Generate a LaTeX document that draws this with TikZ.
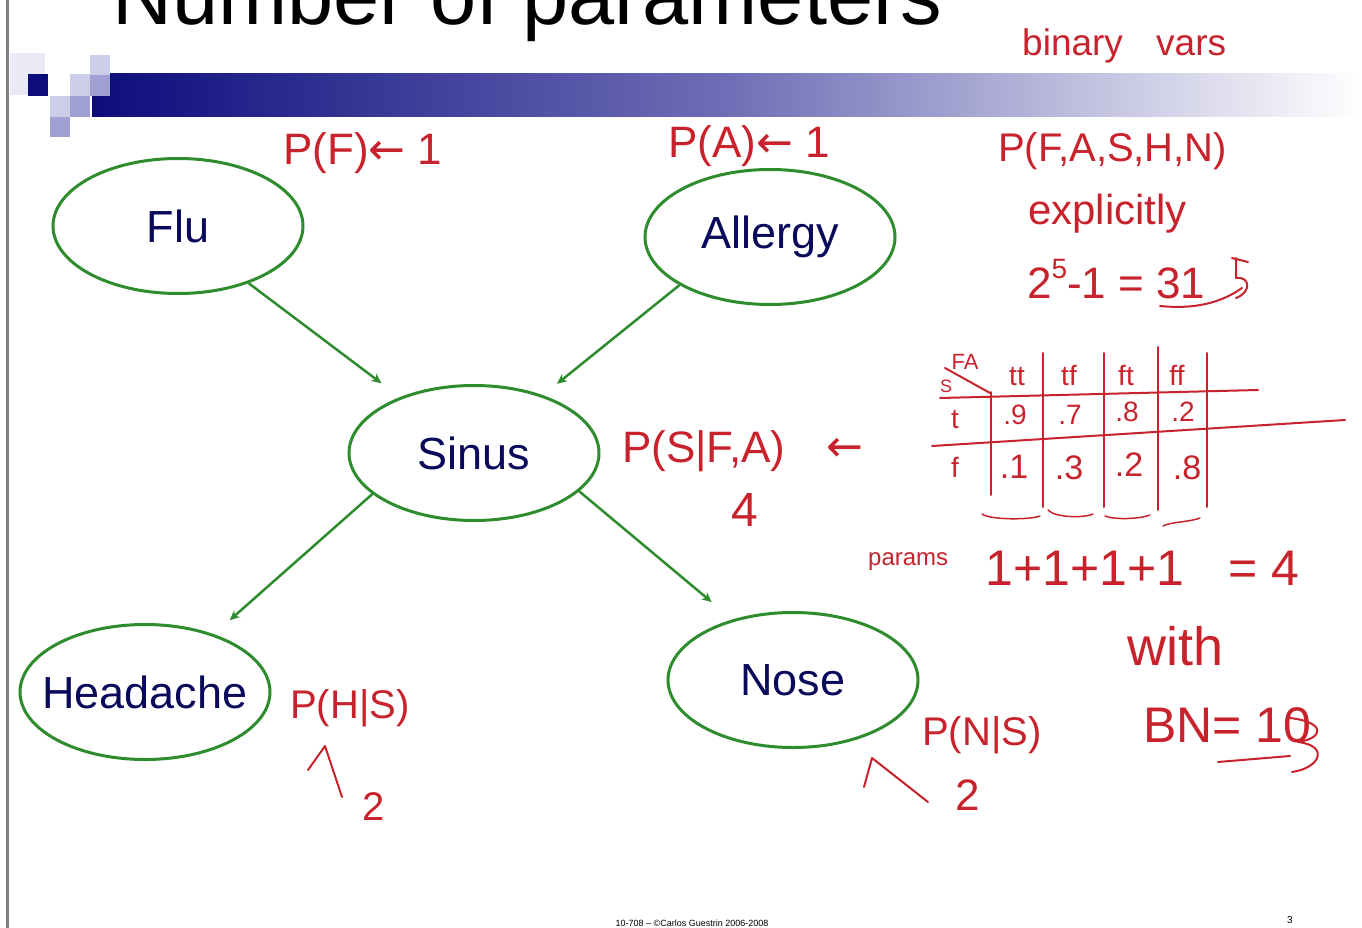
\documentclass[tikz,border=0pt]{standalone}
\usepackage{fontspec}
\setmainfont{Liberation Sans}
\newfontfamily\symf{DejaVu Sans}
\usetikzlibrary{shapes.geometric,arrows.meta}
\definecolor{navy}{RGB}{12,12,125}
\definecolor{barmid}{RGB}{110,110,182}
\definecolor{nodetext}{RGB}{10,10,90}
\definecolor{grn}{RGB}{46,140,46}
\definecolor{ink}{RGB}{200,35,45}
\definecolor{lav1}{RGB}{234,234,246}
\definecolor{lav2}{RGB}{205,205,232}
\definecolor{lav3}{RGB}{160,160,210}
\begin{document}
\begin{tikzpicture}[x=1pt,y=-1pt,
  bn/.style={ellipse, draw=grn, line width=3pt, minimum width=250pt, minimum height=135pt, inner sep=0pt, font=\fontsize{45}{50}\selectfont, text=nodetext},
  arr/.style={draw=grn, line width=2.5pt, -{Stealth[length=10pt,width=9pt]}},
  hw/.style={text=ink, inner sep=0pt, anchor=base west},
  cell/.style={text=ink, inner sep=0pt, font=\fontsize{28}{30}\selectfont},
  redline/.style={draw=ink, line width=2pt, line cap=round, line join=round}]
\useasboundingbox (0,0) rectangle (1362,928);
\fill[white] (0,0) rectangle (1362,928);
% slide decoration
\draw[gray, line width=3pt] (7,0) -- (7,928);
\node[anchor=base west, inner sep=0pt, font=\fontsize{83}{90}\selectfont] (title) at (112,25) {Number of parameters};
\shade[left color=navy, right color=white, middle color=barmid] (92,74) rectangle (1362,117);
\fill[lav1] (10,53) rectangle (45,95);
\fill[navy] (28,74) rectangle (48,96);
\fill[lav2] (50,96) rectangle (70,117);
\fill[lav3] (50,117) rectangle (70,137);
\fill[lav2] (70,74) rectangle (90,96);
\fill[lav3] (70,96) rectangle (90,117);
\fill[lav2] (90,55) rectangle (110,75);
\fill[lav3] (90,75) rectangle (110,96);
% network
\node[bn] (flu) at (178,226) {Flu};
\node[bn] (allergy) at (770,237) {Allergy};
\node[bn] (sinus) at (474,453) {Sinus};
\node[bn] (headache) at (145,692) {\makebox[0pt]{Headache}};
\node[bn] (nose) at (793,680) {Nose};
\draw[arr, shorten >=23pt] (flu.321) -- (sinus.143);
\draw[arr, shorten >=18pt] (allergy.208) -- (sinus.40);
\draw[arr, shorten >=21pt] (sinus.202) -- (headache.40);
\draw[arr, shorten >=27pt] (sinus.340) -- (nose.135);
% handwritten notes
\node[hw, font=\fontsize{37}{40}\selectfont] (binary) at (1022,56) {binary};
\node[hw, font=\fontsize{37}{40}\selectfont] (vars) at (1156,56) {vars};
\node[hw, font=\fontsize{44}{48}\selectfont] (pf) at (283,165) {P(F){\symf ←} 1};
\node[hw, font=\fontsize{44}{48}\selectfont] (pa) at (668,158) {P(A){\symf ←} 1};
\node[hw, font=\fontsize{40}{44}\selectfont] (joint) at (998,162) {P(F,A,S,H,N)};
\node[hw, font=\fontsize{42}{46}\selectfont] (explicitly) at (1028,225) {explicitly};
\node[hw, font=\fontsize{44}{48}\selectfont] (count) at (1027,298) {2\raisebox{0.45em}{\fontsize{28}{30}\selectfont 5}-1 = 31};
\draw[redline] (1160,306) .. controls (1200,310) and (1225,300) .. (1242,288);
\draw[redline] (1232,258) -- (1248,262) (1236,258) -- (1236,278) .. controls (1250,276) and (1252,292) .. (1236,298);
% CPT table
\draw[redline] (940,398) -- (1258,390);
\draw[redline] (932,446) -- (1345,420);
\draw[redline] (991,392) -- (991,495);
\draw[redline] (1043,353) -- (1043,507);
\draw[redline] (1104,353) -- (1104,507);
\draw[redline] (1158,347) -- (1158,510);
\draw[redline] (1207,353) -- (1207,507);
\draw[redline] (945,368) -- (990,393);
\node[cell, font=\fontsize{22}{24}\selectfont] (hfa) at (965,362) {FA};
\node[cell, font=\fontsize{18}{20}\selectfont] (hs) at (946,386) {S};
\node[cell] (htt) at (1017,377) {tt};
\node[cell] (htf) at (1069,375) {tf};
\node[cell] (hft) at (1126,375) {ft};
\node[cell] (hff) at (1177,375) {ff};
\node[cell] (rt) at (955,420) {t};
\node[cell] (c11) at (1015,415) {.9};
\node[cell] (c12) at (1070,415) {.7};
\node[cell] (c13) at (1127,412) {.8};
\node[cell] (c14) at (1183,412) {.2};
\node[cell] (rf) at (955,467) {f};
\node[cell, font=\fontsize{34}{36}\selectfont] (c21) at (1014,467) {.1};
\node[cell, font=\fontsize{34}{36}\selectfont] (c22) at (1069,468) {.3};
\node[cell, font=\fontsize{34}{36}\selectfont] (c23) at (1129,465) {.2};
\node[cell, font=\fontsize{34}{36}\selectfont] (c24) at (1187,468) {.8};
\draw[redline, line width=1.5pt] (982,514) .. controls (990,520) and (1030,520) .. (1040,516);
\draw[redline, line width=1.5pt] (1048,510) .. controls (1055,518) and (1085,518) .. (1093,514);
\draw[redline, line width=1.5pt] (1105,516) .. controls (1115,520) and (1140,519) .. (1150,515);
\draw[redline, line width=1.5pt] (1163,526) .. controls (1170,522) and (1190,522) .. (1200,518);
% P(S|F,A)
\node[hw, font=\fontsize{44}{48}\selectfont] (psfa) at (622,462) {P(S|F,A)};
\node[text=ink, inner sep=0pt, font=\fontsize{44}{48}\symf] (larr) at (845,450) {←};
\node[text=ink, inner sep=0pt, font=\fontsize{48}{52}\selectfont] (four) at (745,510) {4};
\node[hw, font=\fontsize{24}{26}\selectfont] (params) at (868,565) {params};
\node[hw, font=\fontsize{50}{54}\selectfont] (sum) at (985,585) {1+1+1+1};
\node[hw, font=\fontsize{50}{54}\selectfont] (eq) at (1228,585) {= 4};
\node[hw, font=\fontsize{54}{58}\selectfont] (with) at (1127,665) {with};
\node[hw, font=\fontsize{50}{54}\selectfont] (bn10) at (1143,742) {BN= 10};
\draw[redline] (1218,762) -- (1290,756);
\draw[redline] (1290,718) .. controls (1325,722) and (1325,738) .. (1298,742) .. controls (1330,746) and (1320,768) .. (1292,772);
% local CPTs
\node[hw, font=\fontsize{40}{44}\selectfont] (phs) at (290,718) {P(H|S)};
\draw[redline] (308,770) -- (325,746) -- (342,797);
\node[hw, font=\fontsize{40}{44}\selectfont] (two1) at (362,820) {2};
\node[hw, font=\fontsize{40}{44}\selectfont] (pns) at (922,745) {P(N|S)};
\draw[redline] (864,787) -- (872,758) -- (928,802);
\node[hw, font=\fontsize{44}{48}\selectfont] (two2) at (955,810) {2};
% footer
\node[inner sep=0pt, font=\fontsize{9}{10}\selectfont] (footer) at (692,923) {10-708 – \textcopyright Carlos Guestrin 2006-2008};
\node[inner sep=0pt, font=\fontsize{10}{11}\selectfont] (page) at (1290,920) {3};
\end{tikzpicture}
\end{document}
